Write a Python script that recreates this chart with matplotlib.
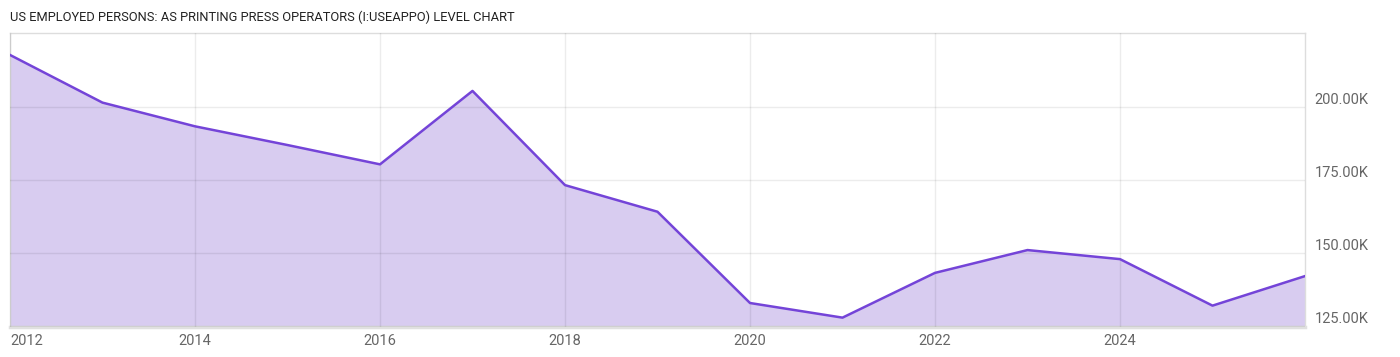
import matplotlib
matplotlib.use("Agg")
import matplotlib.pyplot as plt
from matplotlib.ticker import FuncFormatter, FixedLocator

years = [2012, 2013, 2014, 2015, 2016, 2017, 2018, 2019, 2020, 2021, 2022, 2023, 2024, 2025, 2026]
values = [217.7, 201.4, 193.3, 186.9, 180.3, 205.4, 173.2, 164.1, 132.9, 127.9, 143.2, 151.0, 147.9, 132.0, 142.1]
values_k = [v * 1000 for v in values]
x_ticks = [2012, 2014, 2016, 2018, 2020, 2022, 2024]
y_ticks = [125000, 150000, 175000, 200000]
title = "US EMPLOYED PERSONS: AS PRINTING PRESS OPERATORS (I:USEAPPO) LEVEL CHART"

plt.rcParams['font.family'] = ['Roboto', 'DejaVu Sans']

W, H = 1400, 357
fig = plt.figure(figsize=(W / 100, H / 100), dpi=100)
ax = fig.add_axes([10 / W, (H - 327) / H, (1305 - 10) / W, (327 - 33) / H])

line_c = "#7444d8"
fill_c = "#d8ccf0"
ax.fill_between(years, values_k, 0, color=fill_c, zorder=1, linewidth=0)
ax.plot(years, values_k, color=line_c, linewidth=1.8, zorder=3, solid_joinstyle='round')

ax.set_xlim(2012, 2026)
ax.set_ylim(124700, 225200)

ax.xaxis.set_major_locator(FixedLocator(x_ticks))
ax.yaxis.set_major_locator(FixedLocator(y_ticks))
ax.set_axisbelow(False)
ax.grid(True, color="#000000", alpha=0.075, linewidth=1, zorder=2)

ax.yaxis.tick_right()
ax.tick_params(axis='both', length=0, labelsize=10.5, labelcolor="#666666")
ax.tick_params(axis='y', pad=7)
ax.tick_params(axis='x', pad=5)
ax.yaxis.set_major_formatter(FuncFormatter(lambda v, p: f"{v/1000:.2f}K"))
for lbl in ax.get_yticklabels():
    lbl.set_verticalalignment('bottom')
ax.xaxis.set_major_formatter(FuncFormatter(lambda v, p: f"{int(round(v))}"))
fig.canvas.draw()
xl = ax.get_xticklabels()
xl[0].set_horizontalalignment('left')

for s in ['top', 'left', 'right']:
    ax.spines[s].set_color("#dddddd")
    ax.spines[s].set_linewidth(1)
ax.spines['bottom'].set_color("#e0e0e0")
ax.spines['bottom'].set_linewidth(2.5)

fig.text(10 / W, 1 - 17 / H, title, fontsize=9.3, color="#222222", va='center', ha='left')

fig.savefig("out.png", dpi=100)
